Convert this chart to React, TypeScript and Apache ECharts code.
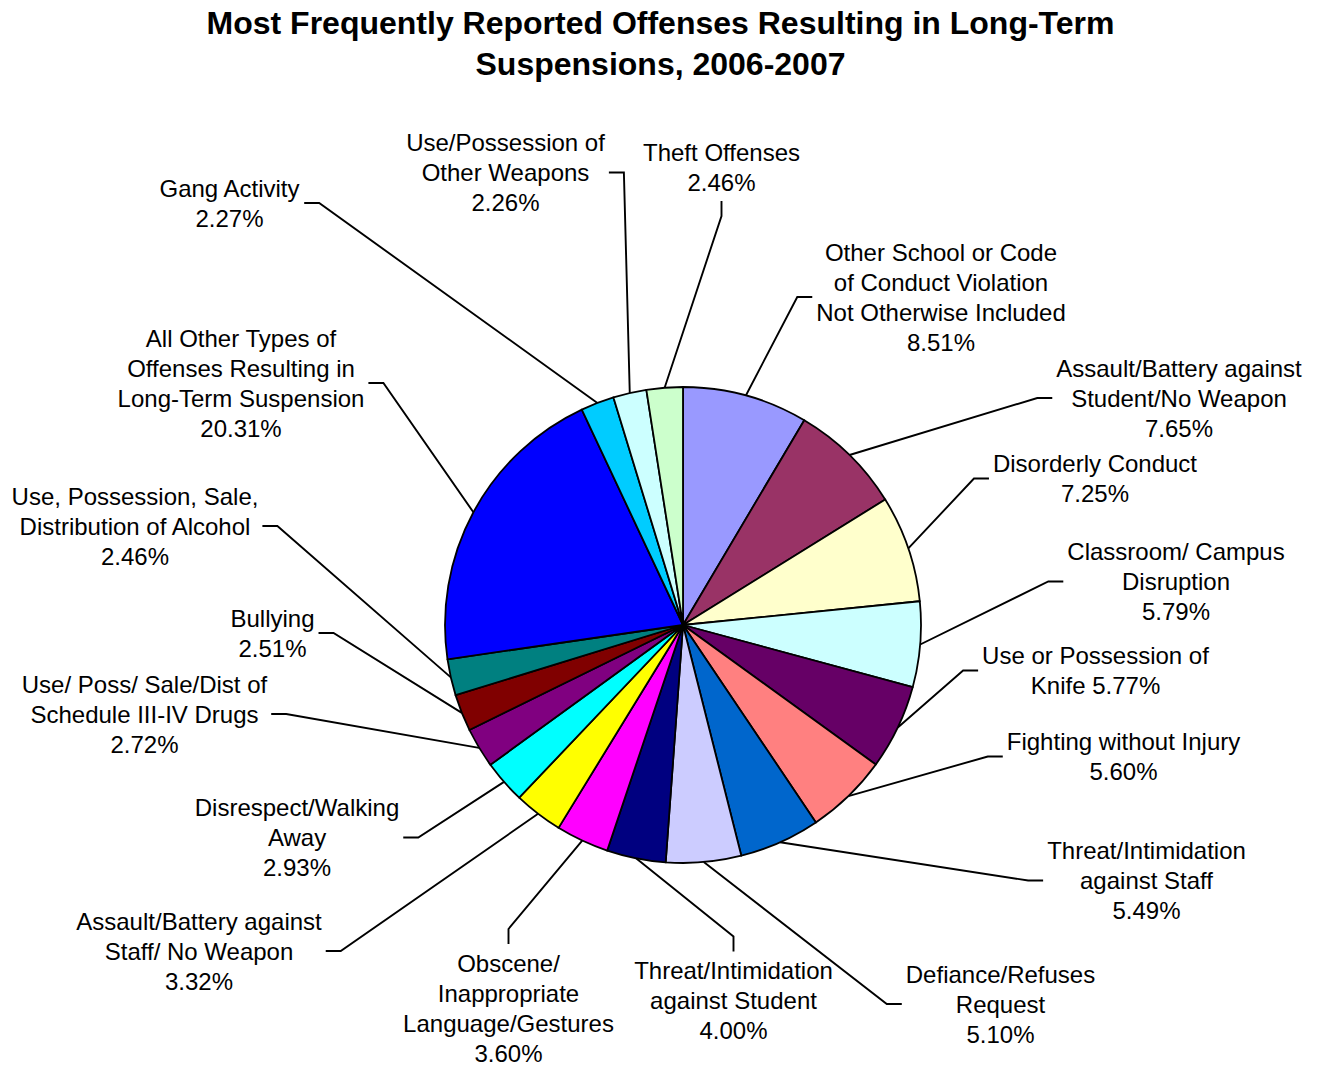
import React, { useEffect, useRef } from 'react';
import * as echarts from 'echarts';

const TITLE = 'Most Frequently Reported Offenses Resulting in Long-Term\nSuspensions, 2006-2007';

const categories = [
  'Other School or Code\nof Conduct Violation\nNot Otherwise Included',
  'Assault/Battery against\nStudent/No Weapon',
  'Disorderly Conduct',
  'Classroom/ Campus\nDisruption',
  'Use or Possession of\nKnife',
  'Fighting without Injury',
  'Threat/Intimidation\nagainst Staff',
  'Defiance/Refuses\nRequest',
  'Threat/Intimidation\nagainst Student',
  'Obscene/\nInappropriate\nLanguage/Gestures',
  'Assault/Battery against\nStaff/ No Weapon',
  'Disrespect/Walking\nAway',
  'Use/ Poss/ Sale/Dist of\nSchedule III-IV Drugs',
  'Bullying',
  'Use, Possession, Sale,\nDistribution of Alcohol',
  'All Other Types of\nOffenses Resulting in\nLong-Term Suspension',
  'Gang Activity',
  'Use/Possession of\nOther Weapons',
  'Theft Offenses',
];

const values = [8.51, 7.65, 7.25, 5.79, 5.77, 5.6, 5.49, 5.1, 4.0, 3.6, 3.32, 2.93, 2.72, 2.51, 2.46, 20.31, 2.27, 2.26, 2.46];

// percentage written on the same line as the last word of the name
const percentInline = [false, false, false, false, true, false, false, false, false, false, false, false, false, false, false, false, false, false, false];

const colors = [
  '#9999FF', '#993366', '#FFFFCC', '#CCFFFF', '#660066', '#FF8080', '#0066CC', '#CCCCFF', '#000080',
  '#FF00FF', '#FFFF00', '#00FFFF', '#800080', '#800000', '#008080', '#0000FF', '#00CCFF', '#CCFFFF', '#CCFFCC',
];

// label block centres (layout only)
const labelCenters: number[][] = [
  [941, 297], [1179, 398], [1095, 478.5], [1176, 581.5], [1095.5, 670.5], [1123.5, 756.5],
  [1146.5, 880.5], [1000.5, 1004], [733.5, 1000.5], [508.5, 1008], [199, 951], [297, 837.5],
  [144.5, 714], [272.5, 633], [135, 526], [241, 383], [229.5, 203], [505.5, 172.5], [721.5, 167],
];
// side of the label block where the leader line attaches
const lineSides = ['l', 'l', 'l', 'l', 'l', 'l', 'l', 'l', 't', 't', 'r', 'r', 'r', 'r', 'r', 'r', 'r', 'r', 'b'];

const CX = 683;
const CY = 625;
const R = 238;
const FONT = '"Liberation Sans", Arial, Helvetica, sans-serif';

export default function App() {
  const ref = useRef<HTMLDivElement>(null);
  useEffect(() => {
    if (!ref.current) return;
    const chart = echarts.init(ref.current, null, { renderer: 'svg' });
    const total = values.reduce((a, b) => a + b, 0);
    const mids: number[] = [];
    let acc = 0;
    values.forEach((v) => {
      mids.push(((acc + v / 2) / total) * Math.PI * 2);
      acc += v;
    });
    const gap = 4;
    const seg = 15;
    chart.setOption({
      animation: false,
      backgroundColor: '#ffffff',
      title: {
        text: TITLE,
        left: 'center',
        top: 2,
        padding: 0,
        textStyle: { fontSize: 32, fontWeight: 'bold', color: '#000', fontFamily: FONT, lineHeight: 41 },
      },
      series: [
        {
          type: 'pie',
          center: [CX, CY],
          radius: R,
          startAngle: 90,
          clockwise: true,
          avoidLabelOverlap: false,
          data: categories.map((name, i) => ({ name, value: values[i], itemStyle: { color: colors[i] } })),
          itemStyle: { borderColor: '#000', borderWidth: 1.8 },
          emphasis: { disabled: true },
          label: {
            show: true,
            position: 'outside',
            color: '#000',
            fontSize: 24,
            lineHeight: 30,
            fontFamily: FONT,
            align: 'center',
            overflow: 'none',
            formatter: (p: any) =>
              p.name + (percentInline[p.dataIndex] ? ' ' : '\n') + values[p.dataIndex].toFixed(2) + '%',
          },
          labelLine: { show: true, length: 10, length2: 10, smooth: false, lineStyle: { color: '#000', width: 1.9 } },
          labelLayout: (params: any) => {
            const i = params.dataIndex;
            const [lx, ly] = labelCenters[i];
            const w = params.labelRect.width;
            const h = params.labelRect.height;
            const a = mids[i];
            const sx = CX + R * Math.sin(a);
            const sy = CY - R * Math.cos(a);
            let end: number[];
            let elbow: number[];
            const side = lineSides[i];
            if (side === 'l') {
              end = [lx - w / 2 - gap, ly];
              elbow = [end[0] - seg, ly];
            } else if (side === 'r') {
              end = [lx + w / 2 + gap, ly];
              elbow = [end[0] + seg, ly];
            } else if (side === 't') {
              end = [lx, ly - h / 2 - gap];
              elbow = [lx, end[1] - seg];
            } else {
              end = [lx, ly + h / 2 + gap];
              elbow = [lx, end[1] + seg];
            }
            return {
              x: lx,
              y: ly,
              align: 'center',
              verticalAlign: 'middle',
              labelLinePoints: [[sx, sy], elbow, end],
            };
          },
        },
      ],
    });
    return () => chart.dispose();
  }, []);
  return <div ref={ref} style={{ position: 'fixed', left: 0, top: 0, width: 1321, height: 1069, background: '#fff' }} />;
}
